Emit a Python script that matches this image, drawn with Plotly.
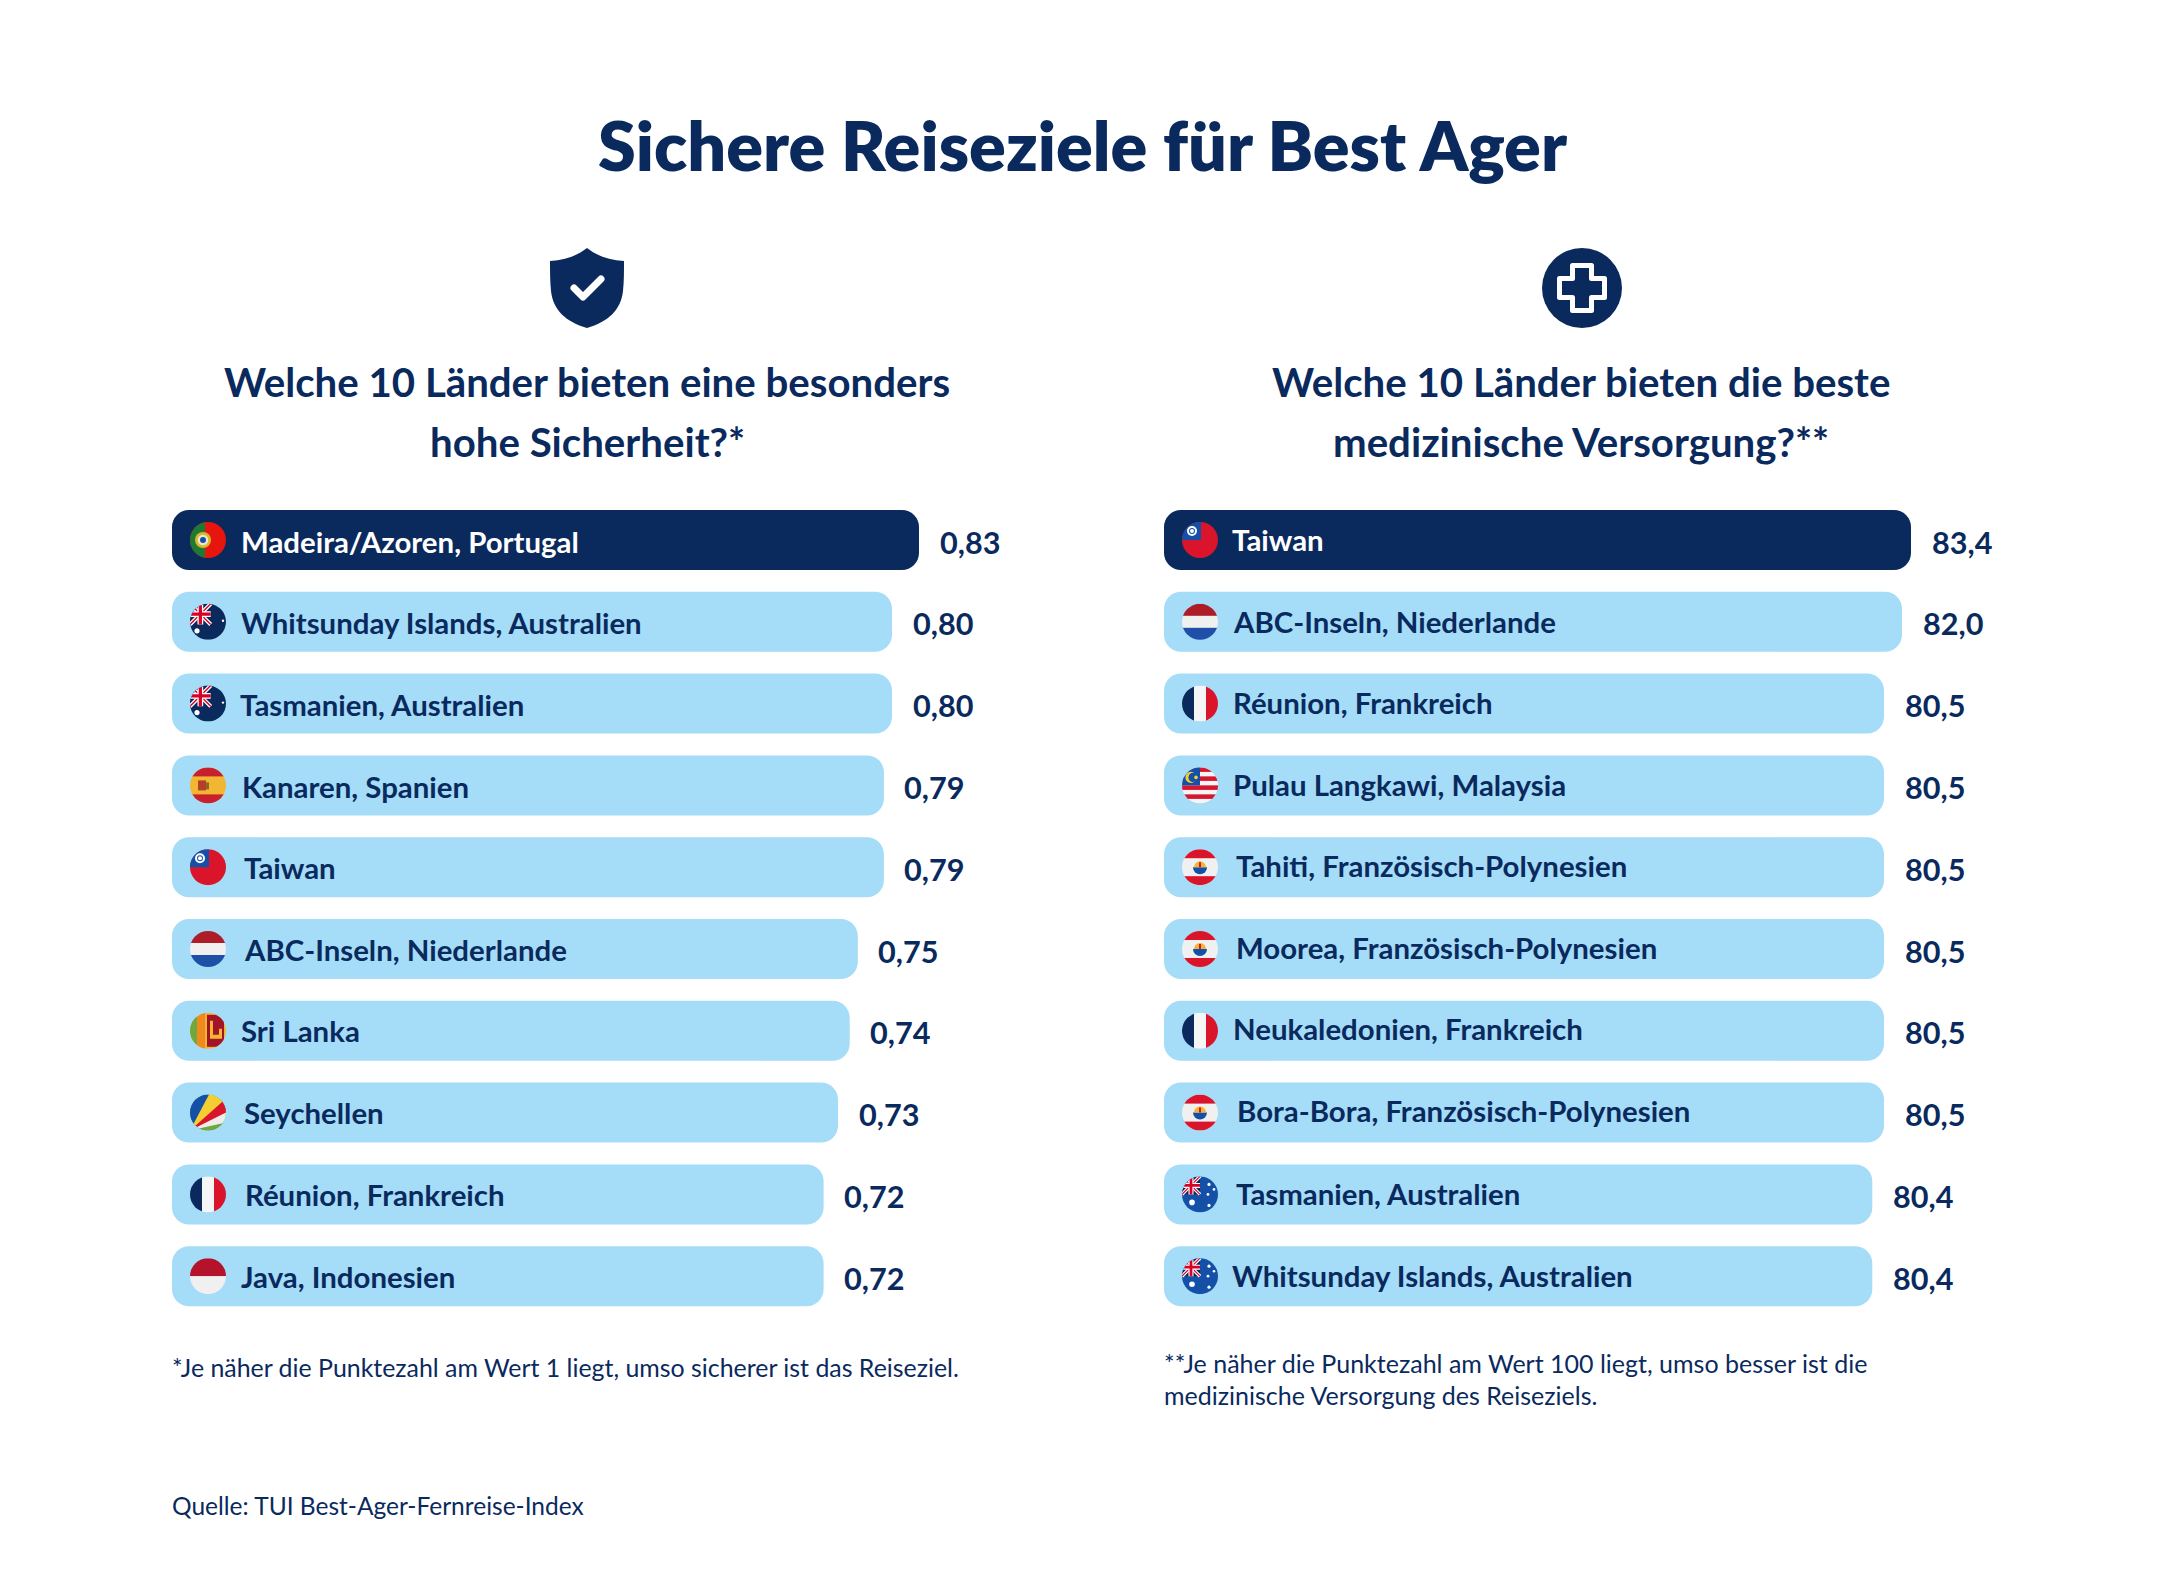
import urllib.parse
import plotly.graph_objects as go

W, H = 2168, 1580
NAVY = "#0A2A5E"
LIGHT = "#A5DCF8"
FONT = "Lato"

title = "Sichere Reiseziele für Best Ager"
head_left = ["Welche 10 Länder bieten eine besonders", "hohe Sicherheit?*"]
head_right = ["Welche 10 Länder bieten die beste", "medizinische Versorgung?**"]
note_left = ["*Je näher die Punktezahl am Wert 1 liegt, umso sicherer ist das Reiseziel."]
note_right = ["**Je näher die Punktezahl am Wert 100 liegt, umso besser ist die",
              "medizinische Versorgung des Reiseziels."]
source = "Quelle: TUI Best-Ager-Fernreise-Index"

cat_left = ["Madeira/Azoren, Portugal", "Whitsunday Islands, Australien", "Tasmanien, Australien",
            "Kanaren, Spanien", "Taiwan", "ABC-Inseln, Niederlande", "Sri Lanka", "Seychellen",
            "Réunion, Frankreich", "Java, Indonesien"]
val_left = ["0,83", "0,80", "0,80", "0,79", "0,79", "0,75", "0,74", "0,73", "0,72", "0,72"]
# bar lengths as drawn in the picture, on a 0-1 axis (the artwork is not strictly proportional)
len_left = [0.83, 0.80, 0.80, 0.791, 0.791, 0.762, 0.753, 0.74, 0.724, 0.724]
flag_left = ["pt", "au_dark", "au_dark", "es", "tw", "nl", "lk", "sc", "fr", "id"]

cat_right = ["Taiwan", "ABC-Inseln, Niederlande", "Réunion, Frankreich", "Pulau Langkawi, Malaysia",
             "Tahiti, Französisch-Polynesien", "Moorea, Französisch-Polynesien", "Neukaledonien, Frankreich",
             "Bora-Bora, Französisch-Polynesien", "Tasmanien, Australien", "Whitsunday Islands, Australien"]
val_right = ["83,4", "82,0", "80,5", "80,5", "80,5", "80,5", "80,5", "80,5", "80,4", "80,4"]
# bar lengths as drawn in the picture, on a 0-100 axis
len_right = [83.0, 82.0, 80.0, 80.0, 80.0, 80.0, 80.0, 80.0, 78.7, 78.7]
flag_right = ["tw", "nl", "fr", "my", "pf", "pf", "fr", "pf", "au", "au"]

# small hand offsets of the label starts, in px from the bar start
offset_left = [68, 68, 67, 69, 71, 71, 68, 71, 72, 68]
offset_right = [67, 68, 68, 68, 71, 71, 68, 72, 71, 67]
# small hand offsets of the label heights, in px (up is positive)
lift_left = [-1, -1, -1, -1, 0, 0, 0, 0, 0, 0]
lift_right = [1, 0, 1, 1, 2, 2, 2, 2, 1, 1]

X0_L, X0_R, SPAN = 172, 1164, 900
ROW0, PITCH = 540.0, 81.8
Y_TOP, Y_BOT = ROW0 - PITCH / 2, ROW0 + 9.5 * PITCH


def uri(body, vb="0 0 36 36"):
    svg = f'<svg xmlns="http://www.w3.org/2000/svg" viewBox="{vb}">{body}</svg>'
    return "data:image/svg+xml," + urllib.parse.quote(svg)


def clip(body):
    return ('<defs><clipPath id="c"><circle cx="18" cy="18" r="18"/></clipPath></defs>'
            f'<g clip-path="url(#c)">{body}</g>')


def hstripes(*cols):
    n = len(cols)
    return "".join(f'<rect x="0" y="{i*36/n}" width="36" height="{36/n+0.2}" fill="{c}"/>' for i, c in enumerate(cols))


def uk(x=0, y=0, s=1.0):
    return (f'<g transform="translate({x} {y}) scale({s})">'
            '<rect width="18" height="18" fill="#0A2A5E"/>'
            '<path d="M0 0L18 18M18 0L0 18" stroke="#fff" stroke-width="3.4"/>'
            '<path d="M0 0L18 18M18 0L0 18" stroke="#D80027" stroke-width="1.2"/>'
            '<path d="M9 0V18M0 9H18" stroke="#fff" stroke-width="5"/>'
            '<path d="M9 0V18M0 9H18" stroke="#D80027" stroke-width="2.8"/></g>')


def star(cx, cy, r):
    return f'<circle cx="{cx}" cy="{cy}" r="{r}" fill="#fff"/>'


FLAGS = {
    "pt": '<rect width="36" height="36" fill="#E8140E"/><rect width="15" height="36" fill="#1E7A33"/>'
          '<circle cx="13" cy="18" r="8" fill="#D9B82A"/><circle cx="13" cy="18" r="5.3" fill="#E8E8E0"/>'
          '<circle cx="13" cy="18" r="3" fill="#1F4E9A"/>',
    "au_dark": '<rect width="36" height="36" fill="#0A2A5E"/>' + uk(0, 0, 1.15) + star(33, 17, 1.2) + star(7, 27, 2.6),
    "au": '<rect width="36" height="36" fill="#1550A8"/>' + uk(0, 0, 1.0) + star(27, 8, 1.6) + star(32, 13, 1.3)
          + star(26, 18, 1.4) + star(27, 29, 1.6) + star(10, 26, 2.8),
    "es": '<rect width="36" height="36" fill="#F2B632"/><rect width="36" height="9" fill="#C8202D"/>'
          '<rect y="27" width="36" height="9" fill="#C8202D"/><rect x="8" y="13" width="8" height="10" fill="#B5402A"/>'
          '<rect x="16" y="15" width="3" height="7" fill="#8C6A22"/>',
    "tw": '<rect width="36" height="36" fill="#D9142B"/><rect width="19" height="18" fill="#1550A8"/>'
          '<circle cx="10" cy="9" r="5" fill="#fff"/><circle cx="10" cy="9" r="3" fill="#1550A8"/><circle cx="10" cy="9" r="2" fill="#fff"/>',
    "nl": hstripes("#AE1C28", "#F0F0F0", "#1E50A8"),
    "fr": '<rect width="12" height="36" fill="#0A2A5E"/><rect x="12" width="12" height="36" fill="#F5F5F5"/>'
          '<rect x="24" width="12" height="36" fill="#D9142B"/>',
    "id": '<rect width="36" height="18" fill="#B5132B"/><rect y="18" width="36" height="18" fill="#F0F0F0"/>',
    "lk": '<rect width="36" height="36" fill="#F2B632"/><rect width="7" height="36" fill="#6FA83C"/>'
          '<rect x="7" width="8" height="36" fill="#F08A1E"/><rect x="17" y="2" width="17" height="32" fill="#A3142B"/>'
          '<path d="M20 8h3v14h6v-6h3v10H20z" fill="#F2B632"/>',
    "sc": '<rect width="36" height="36" fill="#6FA83C"/>'
          '<path d="M0 36L36 26V36z" fill="#6FA83C"/>'
          '<path d="M0 36L36 16V28z" fill="#EDEDED"/>'
          '<path d="M0 36L36 2V18z" fill="#D9142B"/>'
          '<path d="M0 36L18 0H36V4z" fill="#F5CF32"/>'
          '<path d="M0 36V0H19z" fill="#1550A8"/>',
    "my": hstripes("#D9142B", "#F5F5F5", "#D9142B", "#F5F5F5", "#D9142B", "#F5F5F5", "#D9142B", "#F5F5F5")
          + '<rect width="18" height="18" fill="#1550A8"/><circle cx="9" cy="10" r="5.6" fill="#F5CF32"/>'
            '<circle cx="11" cy="10" r="4.6" fill="#1550A8"/><circle cx="14" cy="10" r="1.8" fill="#F5CF32"/>',
    "pf": '<rect width="36" height="36" fill="#F0F0F0"/><rect width="36" height="9" fill="#D9142B"/>'
          '<rect y="27" width="36" height="9" fill="#D9142B"/><path d="M11 18h14a7 7 0 0 1-14 0z" fill="#1550A8"/>'
          '<path d="M12 18a6 6 0 0 1 12 0z" fill="#F2B632"/><path d="M17 13h2v5h-2z" fill="#D9142B"/>',
}

SHIELD = ('<path d="M37 0C47 8 59 12 74 13C74 24 74 33 73 43C71 62 58 74 37 80C16 74 3 62 1 43C0 33 0 24 0 13C15 12 27 8 37 0z" fill="#0A2A5E"/>'
          '<path d="M24 40L33 49L51 31" fill="none" stroke="#fff" stroke-width="7" stroke-linecap="round" stroke-linejoin="round"/>')
CROSS = ('<circle cx="40" cy="40" r="40" fill="#0A2A5E"/>'
         '<path d="M30.5 17.5H49.5V30.5H62.5V49.5H49.5V62.5H30.5V49.5H17.5V30.5H30.5z" fill="none" stroke="#fff" stroke-width="5" stroke-linejoin="round"/>')

fig = go.Figure()
colors = [NAVY] + [LIGHT] * 9
# An explicit base makes Plotly round all four corners of each bar.
for cats, lens, xa, ya in [(cat_left, len_left, "x", "y"), (cat_right, len_right, "x2", "y2")]:
    fig.add_trace(go.Bar(y=cats, x=lens, base=[0] * len(lens), orientation="h", xaxis=xa, yaxis=ya,
                         marker=dict(color=colors, line=dict(width=0)), hoverinfo="skip", showlegend=False))


def free_text(text, px, py, size, weight=400, anchor="left"):
    fig.add_annotation(text=text, xref="paper", yref="paper", x=px / W, y=1 - py / H, xanchor=anchor, yanchor="middle",
                       showarrow=False, borderpad=0, font=dict(family=FONT, size=size, color=NAVY, weight=weight))


free_text(title, 1083, 145, 68.3, 800, "center")
for i, t in enumerate(head_left):
    free_text(t, 587, 381.5 + 60 * i, 40.2, 700, "center")
for i, t in enumerate(head_right):
    free_text(t, 1581, 381.5 + 60 * i, 40.2, 700, "center")
for i, t in enumerate(note_left):
    free_text(t, 171, 1366.5, 24.9)
for i, t in enumerate(note_right):
    free_text(t, 1163, 1362.5 + 32 * i, 25)
free_text(source, 171, 1505, 24.5)

images = []


def place(src, px, py, w, h):
    images.append(dict(source=src, xref="paper", yref="paper", x=px / W, y=1 - py / H, sizex=w / W, sizey=h / H,
                       xanchor="left", yanchor="top", sizing="stretch", layer="above"))


place(uri(SHIELD, "0 0 74 80"), 550, 248, 74, 80)
place(uri(CROSS, "0 0 80 80"), 1542, 248, 80, 80)

for cats, vals, lens, flags, offs, lifts, xa, ya, fx in [
    (cat_left, val_left, len_left, flag_left, offset_left, lift_left, "x", "y", 190),
    (cat_right, val_right, len_right, flag_right, offset_right, lift_right, "x2", "y2", 1182),
]:
    for i, (c, v, l, f, o, s) in enumerate(zip(cats, vals, lens, flags, offs, lifts)):
        fig.add_annotation(text=c, xref=xa, yref=ya, x=0, y=c, xanchor="left", yanchor="middle", xshift=o,
                           yshift=s, showarrow=False, borderpad=0,
                           font=dict(family=FONT, size=29.4, color="#FFFFFF" if i == 0 else NAVY, weight=700))
        fig.add_annotation(text=v, xref=xa, yref=ya, x=l, y=c, xanchor="left", yanchor="middle", xshift=19.5, yshift=-2,
                           showarrow=False, borderpad=0, font=dict(family=FONT, size=30.6, color=NAVY, weight=700))
        place(uri(clip(FLAGS[f])), fx, ROW0 + PITCH * i - 18, 36, 36)

yd = [1 - Y_BOT / H, 1 - Y_TOP / H]
axis_off = dict(showgrid=False, zeroline=False, showticklabels=False, ticks="", showline=False, fixedrange=True)
fig.update_layout(
    width=W, height=H, margin=dict(l=0, r=0, t=0, b=0, pad=0), paper_bgcolor="#FFFFFF", plot_bgcolor="#FFFFFF",
    barmode="overlay", bargap=0.266, barcornerradius=17, images=images, showlegend=False,
    font=dict(family=FONT, color=NAVY),
    xaxis=dict(domain=[X0_L / W, (X0_L + SPAN) / W], range=[0, 1], **axis_off),
    xaxis2=dict(domain=[X0_R / W, (X0_R + SPAN) / W], range=[0, 100], **axis_off),
    yaxis=dict(domain=yd, autorange="reversed", type="category", **axis_off),
    yaxis2=dict(domain=yd, autorange="reversed", type="category", anchor="x2", **axis_off),
)
fig.write_html("out.html", config={"displayModeBar": False}, post_script="document.body.style.margin='0';")
